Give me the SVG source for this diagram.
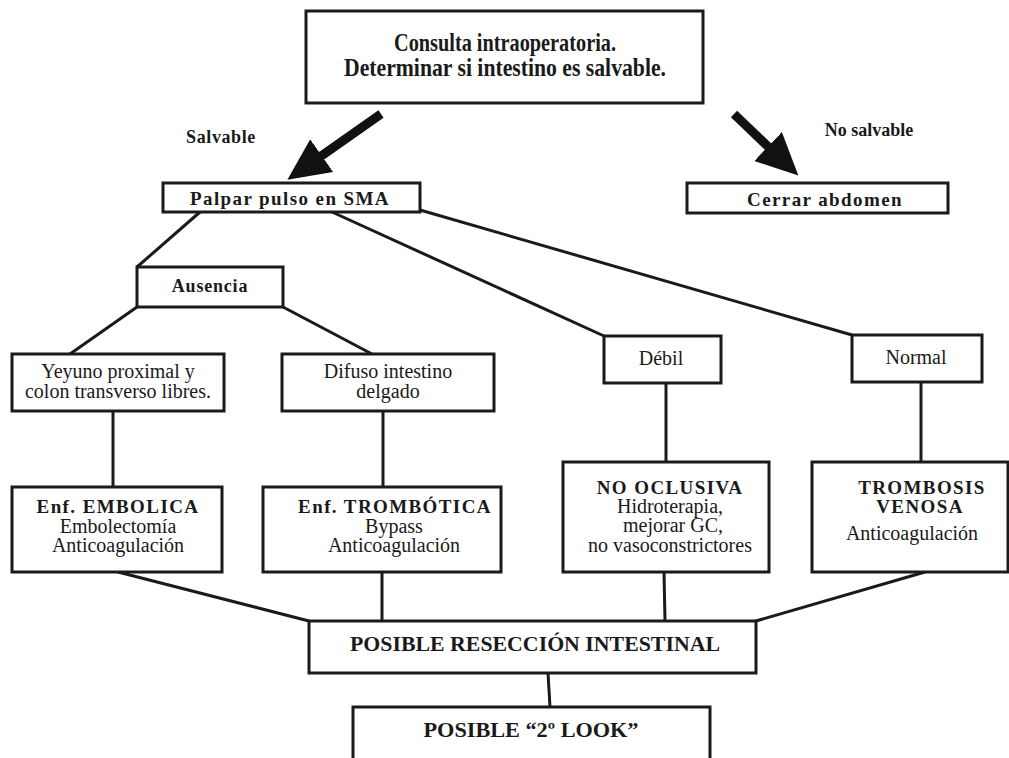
<svg xmlns="http://www.w3.org/2000/svg" width="1009" height="758" viewBox="0 0 1009 758">
<style>
.box{fill:#fff;stroke:#1a1a1a;stroke-width:3}
.ln{stroke:#1a1a1a;stroke-width:3;fill:none}
.arr{stroke:#111;stroke-width:9;fill:none}
text{font-family:"Liberation Serif","Times New Roman",serif;fill:#1a1a1a;text-anchor:middle}
.t{font-size:25px;font-weight:bold}
.h{font-size:19px;font-weight:bold;letter-spacing:1.4px}
.l{font-size:18px;font-weight:bold}
.r{font-size:20px}
.f{font-size:21px;font-weight:bold}
</style>
<defs>
<marker id="ah" markerUnits="userSpaceOnUse" markerWidth="42" markerHeight="40" refX="18" refY="20" orient="auto" viewBox="0 0 42 40">
<path d="M0,0 L42,20 L0,40 z" fill="#111"/>
</marker>
</defs>
<g id="connectors">
<line class="arr" x1="381" y1="114" x2="307" y2="166" marker-end="url(#ah)"/>
<line class="arr" x1="734" y1="114" x2="781" y2="159" marker-end="url(#ah)"/>
<line class="ln" x1="200" y1="212" x2="137" y2="267"/>
<line class="ln" x1="332" y1="212" x2="604" y2="336"/>
<line class="ln" x1="420" y1="210" x2="852" y2="335"/>
<line class="ln" x1="137" y1="307" x2="70" y2="354"/>
<line class="ln" x1="283" y1="307" x2="372" y2="354"/>
<line class="ln" x1="113" y1="411" x2="113" y2="487"/>
<line class="ln" x1="383" y1="411" x2="383" y2="487"/>
<line class="ln" x1="666" y1="383" x2="666" y2="462"/>
<line class="ln" x1="921" y1="382" x2="921" y2="462"/>
<line class="ln" x1="118" y1="572" x2="309" y2="621"/>
<line class="ln" x1="382" y1="572" x2="382" y2="621"/>
<line class="ln" x1="664" y1="572" x2="665" y2="621"/>
<line class="ln" x1="925" y1="572" x2="756" y2="621"/>
<line class="ln" x1="548" y1="673" x2="550" y2="707"/>
</g>
<g id="labels">
<text class="l" x="221" y="143" letter-spacing="0.6">Salvable</text>
<text class="l" x="869" y="136">No salvable</text>
</g>
<g id="consulta">
<rect class="box" x="306" y="11" width="397" height="92" stroke-width="3.5"/>
<text class="t" x="505" y="51" textLength="222" lengthAdjust="spacingAndGlyphs">Consulta intraoperatoria.</text>
<text class="t" x="505" y="76" textLength="322" lengthAdjust="spacingAndGlyphs">Determinar si intestino es salvable.</text>
</g>
<g id="palpar">
<rect class="box" x="163" y="183" width="257" height="29"/>
<text class="h" x="290" y="205">Palpar pulso en SMA</text>
</g>
<g id="cerrar">
<rect class="box" x="687" y="183" width="261" height="30"/>
<text class="h" x="825" y="206">Cerrar abdomen</text>
</g>
<g id="ausencia">
<rect class="box" x="137" y="267" width="146" height="40"/>
<text class="l" x="210" y="292" letter-spacing="0.8">Ausencia</text>
</g>
<g id="yeyuno">
<rect class="box" x="12" y="354" width="212" height="57"/>
<text class="r" x="118" y="378">Yeyuno proximal y</text>
<text class="r" x="118" y="398">colon transverso libres.</text>
</g>
<g id="difuso">
<rect class="box" x="282" y="354" width="212" height="57"/>
<text class="r" x="388" y="378">Difuso intestino</text>
<text class="r" x="388" y="398">delgado</text>
</g>
<g id="debil">
<rect class="box" x="604" y="336" width="117" height="47"/>
<text class="r" x="661" y="365">Débil</text>
</g>
<g id="normal">
<rect class="box" x="852" y="335" width="130" height="47"/>
<text class="r" x="916" y="364">Normal</text>
</g>
<g id="embolica">
<rect class="box" x="12" y="487" width="210" height="85"/>
<text class="h" x="118" y="513">Enf. EMBOLICA</text>
<text class="r" x="118" y="533">Embolectomía</text>
<text class="r" x="118" y="552">Anticoagulación</text>
</g>
<g id="trombotica">
<rect class="box" x="263" y="487" width="238" height="85"/>
<text class="h" x="395" y="513">Enf. TROMBÓTICA</text>
<text class="r" x="394" y="533">Bypass</text>
<text class="r" x="394" y="552">Anticoagulación</text>
</g>
<g id="nooclusiva">
<rect class="box" x="563" y="462" width="206" height="110"/>
<text class="h" x="670" y="494">NO OCLUSIVA</text>
<text class="r" x="670" y="513">Hidroterapia,</text>
<text class="r" x="673" y="532">mejorar GC,</text>
<text class="r" x="670" y="552">no vasoconstrictores</text>
</g>
<g id="trombosis">
<rect class="box" x="812" y="462" width="196" height="110"/>
<text class="h" x="922" y="494">TROMBOSIS</text>
<text class="h" x="920" y="513">VENOSA</text>
<text class="r" x="912" y="540">Anticoagulación</text>
</g>
<g id="reseccion">
<rect class="box" x="309" y="621" width="447" height="52"/>
<text class="f" x="535" y="651" textLength="370" lengthAdjust="spacingAndGlyphs">POSIBLE RESECCIÓN INTESTINAL</text>
</g>
<g id="look">
<rect class="box" x="353" y="707" width="357" height="70"/>
<text class="f" x="531" y="737" textLength="215" lengthAdjust="spacingAndGlyphs">POSIBLE “2º LOOK”</text>
</g>
</svg>
